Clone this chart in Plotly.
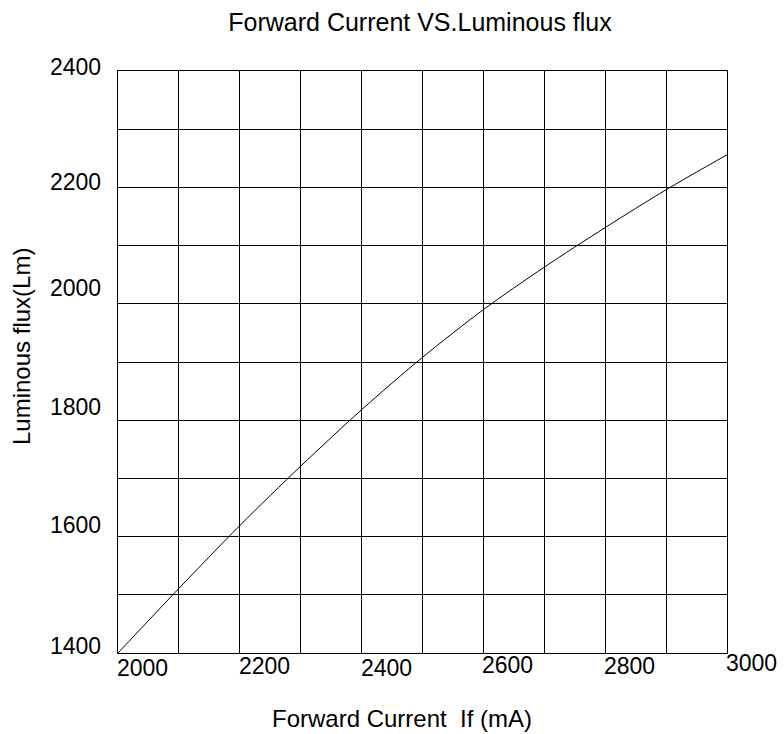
import plotly.graph_objects as go

# Data
current_ma = [2000, 2100, 2200, 2300, 2400, 2500, 2600, 2700, 2800, 2900, 3000]
flux_lm = [1400, 1511, 1619, 1721, 1818, 1908, 1990, 2063, 2131, 2196, 2256]

x_tick_vals = [2000, 2200, 2400, 2600, 2800, 3000]
x_tick_text = ["2000", "2200", "2400", "2600", "2800", "3000"]
y_tick_vals = [2400, 2200, 2000, 1800, 1600, 1400]
y_tick_text = ["2400", "2200", "2000", "1800", "1600", "1400"]

title_text = "Forward Current VS.Luminous flux"
x_title = "Forward Current  If (mA)"
y_title = "Luminous flux(Lm)"

FONT = "Liberation Sans, Arial, sans-serif"

# small per-label offsets (pixels) mimicking the reference placement
x_label_shift = [0, 2, 0, 3, 2, 5]
y_label_shift = [4, 5, 16, 13, 12, 7]

fig = go.Figure()
fig.add_trace(go.Scatter(
    x=current_ma, y=flux_lm, mode="lines",
    line=dict(color="black", width=1, shape="spline", smoothing=0.8),
    hoverinfo="x+y", showlegend=False,
))

annotations = []
for v, t, s in zip(x_tick_vals, x_tick_text, x_label_shift):
    annotations.append(dict(
        x=v, y=0, xref="x", yref="paper", text=t, showarrow=False,
        xanchor="left", yanchor="top", yshift=s, xshift=-3,
        font=dict(family=FONT, size=23, color="black"),
    ))
for v, t, s in zip(y_tick_vals, y_tick_text, y_label_shift):
    annotations.append(dict(
        x=0, y=v, xref="paper", yref="y", text=t, showarrow=False,
        xanchor="right", yanchor="middle", xshift=-15, yshift=s,
        font=dict(family=FONT, size=23, color="black"),
    ))
annotations.append(dict(
    x=(402 - 118) / 609, y=-(718 - 653) / 582, xref="paper", yref="paper",
    text=x_title, showarrow=False, xanchor="center", yanchor="middle",
    font=dict(family=FONT, size=24, color="black"),
))
annotations.append(dict(
    x=-(118 - 21.5) / 609, y=(653 - 346.5) / 582, xref="paper", yref="paper",
    text=y_title, showarrow=False, xanchor="center", yanchor="middle",
    textangle=-90,
    font=dict(family=FONT, size=24, color="black"),
))

fig.update_layout(
    width=784, height=734,
    margin=dict(l=118, r=57, t=71, b=81),
    paper_bgcolor="white", plot_bgcolor="white",
    title=dict(text=title_text, x=(420) / 784, xanchor="center",
               y=1 - 22 / 734, yanchor="middle", yref="container",
               font=dict(family=FONT, size=25, color="black")),
    annotations=annotations,
    xaxis=dict(range=[2000, 3000], dtick=100, tick0=2000,
               showgrid=True, gridcolor="black", gridwidth=1,
               showticklabels=False, ticks="", zeroline=False,
               showline=True, linecolor="black", linewidth=1, mirror=True,
               fixedrange=True),
    yaxis=dict(range=[1400, 2400], dtick=100, tick0=1400,
               showgrid=True, gridcolor="black", gridwidth=1,
               showticklabels=False, ticks="", zeroline=False,
               showline=True, linecolor="black", linewidth=1, mirror=True,
               fixedrange=True),
)

fig.write_html(
    "out.html",
    config={"displayModeBar": False},
    post_script="document.body.style.margin='0';document.body.style.overflow='hidden';",
)
